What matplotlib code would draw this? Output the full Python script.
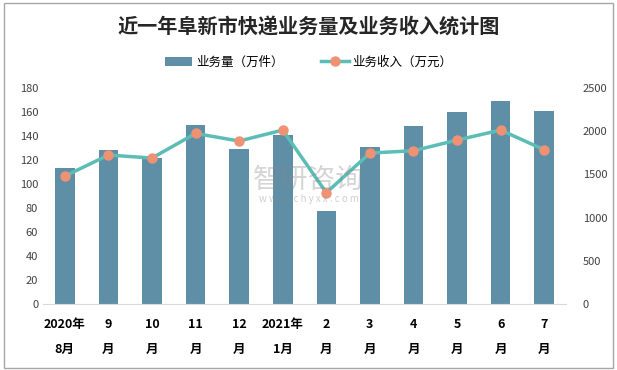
import matplotlib.pyplot as plt
import numpy as np

plt.rcParams['font.family'] = ['Noto Sans CJK SC', 'DejaVu Sans']

months = ['2020年\n8月', '9\n月', '10\n月', '11\n月', '12\n月', '2021年\n1月',
          '2\n月', '3\n月', '4\n月', '5\n月', '6\n月', '7\n月']
volume = [113, 128, 122, 149, 129, 141, 78, 131, 148, 160, 169, 161]
revenue = [1481, 1725, 1690, 1975, 1887, 2014, 1289, 1748, 1775, 1898, 2014, 1786]

fig = plt.figure(figsize=(6.17, 3.7), dpi=100)
ax = fig.add_axes([0.0697, 0.178, 0.8477, 0.584])
x = np.arange(len(months))

ax.bar(x, volume, width=0.45, color='#5f8fa6', label='业务量（万件）', zorder=2)
ax.set_xlim(-0.5, len(months) - 0.5)
ax.set_ylim(0, 180)
ax.set_yticks(range(0, 181, 20))
ax.set_xticks(x)
ax.set_xticklabels(months, fontsize=9, fontweight='bold', linespacing=2.2)
ax.tick_params(axis='x', length=0, pad=10)
ax.tick_params(axis='y', length=0, labelsize=8, colors='#404040')
for s in ['top', 'right', 'left']:
    ax.spines[s].set_visible(False)
ax.spines['bottom'].set_color('#d9d9d9')

ax2 = ax.twinx()
ax2.plot(x, revenue, color='#5bbdb5', lw=2.5, marker='o', markersize=6.5,
         markerfacecolor='#ef9274', markeredgecolor='#ef9274', label='业务收入（万元）', zorder=3)
ax2.set_ylim(0, 2500)
ax2.set_yticks(range(0, 2501, 500))
ax2.tick_params(axis='y', length=0, labelsize=8, colors='#404040', pad=12)
for s in ['top', 'right', 'left', 'bottom']:
    ax2.spines[s].set_visible(False)

# watermark
fig.text(0.5, 0.515, '智研咨询', fontsize=20, color='#888888', alpha=0.35, ha='center', va='center')
fig.text(0.5, 0.462, 'w w w . c h y x x . c o m', fontsize=7, color='#888888', alpha=0.4,
         ha='center', va='center')

fig.suptitle('近一年阜新市快递业务量及业务收入统计图', y=0.955, fontsize=14.5, fontweight='bold', color='#262626')

h1, l1 = ax.get_legend_handles_labels()
h2, l2 = ax2.get_legend_handles_labels()
fig.legend(h1 + h2, l1 + l2, loc='center', bbox_to_anchor=(0.5, 0.832), ncol=2, frameon=False,
           fontsize=9, handlelength=2.2, columnspacing=3, handletextpad=0.3)

fig.patches.append(plt.Rectangle((0.006, 0.006), 0.988, 0.985, transform=fig.transFigure,
                                 fill=False, edgecolor='#a6a6a6', lw=1))

fig.savefig('out.png', dpi=100)
